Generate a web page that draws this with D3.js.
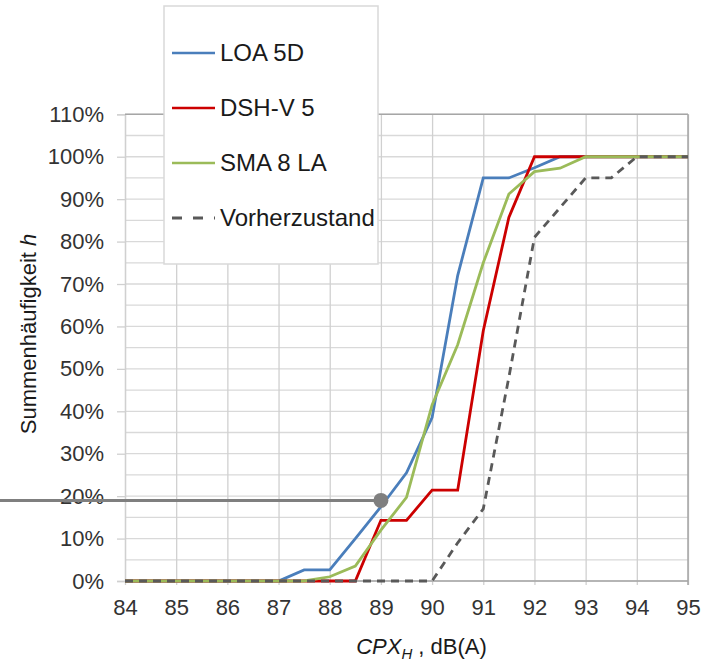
<!DOCTYPE html>
<html>
<head>
<meta charset="utf-8">
<script src="https://cdn.jsdelivr.net/npm/d3@7"></script>
<style>
    body { margin: 0; background: #fff; }
    text { font-family: "Liberation Sans", Arial, sans-serif; }
</style>
</head>
<body>
<div id="my_dataviz"></div>
<script>
// x positions (CPX_H in dB(A)), one value every half decibel
var cpxValues = [84, 84.5, 85, 85.5, 86, 86.5, 87, 87.5, 88, 88.5, 89, 89.5,
    90, 90.5, 91, 91.5, 92, 92.5, 93, 93.5, 94, 94.5, 95]

// cumulative frequency in percent for each series
var loa5d = [0, 0, 0, 0, 0, 0, 0, 2.6, 2.6, 10, 17.5, 25.5,
    38.5, 72, 95, 95, 97.4, 100, 100, 100, 100, 100, 100]
var dshV5 = [0, 0, 0, 0, 0, 0, 0, 0, 0, 0, 14.3, 14.3,
    21.4, 21.4, 59, 85.7, 100, 100, 100, 100, 100, 100, 100]
var sma8la = [0, 0, 0, 0, 0, 0, 0, 0, 1, 3.5, 12, 19.7,
    41.5, 55.7, 75, 91.2, 96.5, 97.3, 100, 100, 100, 100, 100]
var vorherzustand = [0, 0, 0, 0, 0, 0, 0, 0, 0, 0, 0, 0,
    0, 9, 17, 48, 81, 88, 95, 95, 100, 100, 100]

var seriesNames = ["LOA 5D", "DSH-V 5", "SMA 8 LA", "Vorherzustand"]

// tick labels
var xTicks = [84, 85, 86, 87, 88, 89, 90, 91, 92, 93, 94, 95]
var yTicks = [0, 10, 20, 30, 40, 50, 60, 70, 80, 90, 100, 110]
var yGridTicks = d3.range(0, 111, 5)

// marked point (x, h)
var markerPoint = [89, 19]

/**
 * This function is for drawing the whole chart
 * @param {string} id - container selector
 */
function drawChart(id) {
    var width = 717
    var height = 662
    var margin = { top: 114.3, right: 29, bottom: 81, left: 125 }

    var svg = d3.select(id)
        .append("svg")
        .attr("width", width)
        .attr("height", height)

    var g = svg.append("g")
        .attr("transform", "translate(" + margin.left + "," + margin.top + ")")

    var innerW = width - margin.left - margin.right
    var innerH = height - margin.top - margin.bottom

    var x = d3.scaleLinear().domain([84, 95]).range([0, innerW])
    var y = d3.scaleLinear().domain([0, 110]).range([innerH, 0])

    // horizontal gridlines every 5 %
    g.selectAll(".hgrid")
        .data(yGridTicks)
        .enter()
        .append("line")
        .attr("x1", 0)
        .attr("x2", innerW)
        .attr("y1", function (d) { return y(d) })
        .attr("y2", function (d) { return y(d) })
        .attr("stroke", "#d9d9d9")
        .attr("stroke-width", 1.3)

    // vertical gridlines + x axis
    var xAxis = d3.axisBottom(x)
        .tickValues(xTicks)
        .tickSize(-innerH - 4)
        .tickPadding(8)
        .tickFormat(d3.format("d"))
    var gx = g.append("g")
        .attr("transform", "translate(0," + (innerH + 4) + ")")
        .call(xAxis)
    gx.select(".domain").remove()
    gx.selectAll("line").attr("stroke", "#d0d0d0").attr("stroke-width", 1.3)
    gx.selectAll("text")
        .attr("font-size", 22)
        .attr("fill", "#333")
        .attr("dy", "1.0em")

    // y axis with small ticks
    var yAxis = d3.axisLeft(y)
        .tickValues(yTicks)
        .tickSize(8)
        .tickPadding(13)
        .tickFormat(function (d) { return d + "%" })
    var gy = g.append("g").call(yAxis)
    gy.select(".domain").attr("stroke", "#d0d0d0").attr("stroke-width", 1.3)
    gy.selectAll("line").attr("stroke", "#d0d0d0").attr("stroke-width", 1.3)
    gy.selectAll("text")
        .attr("font-size", 22)
        .attr("fill", "#333")

    // plot border top and right (darker)
    g.append("line")
        .attr("x1", 0).attr("x2", innerW)
        .attr("y1", y(110)).attr("y2", y(110))
        .attr("stroke", "#a6a6a6").attr("stroke-width", 1.5)
    g.append("line")
        .attr("x1", x(95)).attr("x2", x(95))
        .attr("y1", y(110)).attr("y2", y(0) + 4)
        .attr("stroke", "#a6a6a6").attr("stroke-width", 1.5)
    g.append("line")
        .attr("x1", 0).attr("x2", innerW)
        .attr("y1", y(0)).attr("y2", y(0))
        .attr("stroke", "#a6a6a6").attr("stroke-width", 1.3)

    // the series, in drawing order
    var series = [
        { name: seriesNames[0], values: loa5d, color: "#4a7ebb", dash: null },
        { name: seriesNames[1], values: dshV5, color: "#cc0000", dash: null },
        { name: seriesNames[2], values: sma8la, color: "#9bbb59", dash: null },
        { name: seriesNames[3], values: vorherzustand, color: "#595959", dash: "8,6" }
    ]

    var line = d3.line()
        .x(function (d) { return x(d[0]) })
        .y(function (d) { return y(d[1]) })

    series.forEach(function (s) {
        g.append("path")
            .datum(d3.zip(cpxValues, s.values))
            .attr("d", line)
            .attr("fill", "none")
            .attr("stroke", s.color)
            .attr("stroke-width", 2.8)
            .attr("stroke-dasharray", s.dash)
    })

    // annotation line from the left edge to the marked point
    g.append("line")
        .attr("x1", -margin.left)
        .attr("x2", x(markerPoint[0]))
        .attr("y1", y(markerPoint[1]))
        .attr("y2", y(markerPoint[1]))
        .attr("stroke", "#7f7f7f")
        .attr("stroke-width", 3)
    g.append("circle")
        .attr("cx", x(markerPoint[0]))
        .attr("cy", y(markerPoint[1]))
        .attr("r", 7.5)
        .attr("fill", "#7f7f7f")

    // legend box
    var legend = svg.append("g").attr("transform", "translate(164,6)")
    legend.append("clipPath").attr("id", "legclip")
        .append("rect").attr("width", 213).attr("height", 258)
    legend.append("rect")
        .attr("width", 214)
        .attr("height", 258)
        .attr("fill", "#fff")
        .attr("stroke", "#d9d9d9")
        .attr("stroke-width", 1.5)

    // keep the legend text inside the box
    var inner = legend.append("g").attr("clip-path", "url(#legclip)")
    var items = inner.selectAll(".item")
        .data(series)
        .enter()
        .append("g")
        .attr("transform", function (d, i) { return "translate(8," + (47 + i * 55) + ")" })
    items.append("line")
        .attr("x1", 0).attr("x2", 43)
        .attr("stroke", function (d) { return d.color })
        .attr("stroke-width", function (d) { return d.dash ? 3 : 2.5 })
        .attr("stroke-dasharray", function (d) { return d.dash ? "10,11" : null })
    items.append("text")
        .attr("x", 48)
        .attr("dy", "0.35em")
        .attr("font-size", 24)
        .attr("fill", "#1a1a1a")
        .text(function (d) { return d.name })

    // x axis title
    var xt = svg.append("text")
        .attr("x", margin.left + innerW / 2 + 15)
        .attr("y", 654)
        .attr("text-anchor", "middle")
        .attr("font-size", 22)
        .attr("fill", "#1a1a1a")
    xt.append("tspan").attr("font-style", "italic").text("CPX")
    xt.append("tspan").attr("font-style", "italic").attr("font-size", 15)
        .attr("dy", 5).text("H")
    xt.append("tspan").attr("dy", -5).text(" , dB(A)")

    // y axis title
    var yt = svg.append("text")
        .attr("transform", "translate(36," + 334 + ") rotate(-90)")
        .attr("text-anchor", "middle")
        .attr("font-size", 22)
        .attr("fill", "#1a1a1a")
    yt.append("tspan").text("Summenhäufigkeit ")
    yt.append("tspan").attr("font-style", "italic").text("h")
}

drawChart("#my_dataviz")
</script>
</body>
</html>
